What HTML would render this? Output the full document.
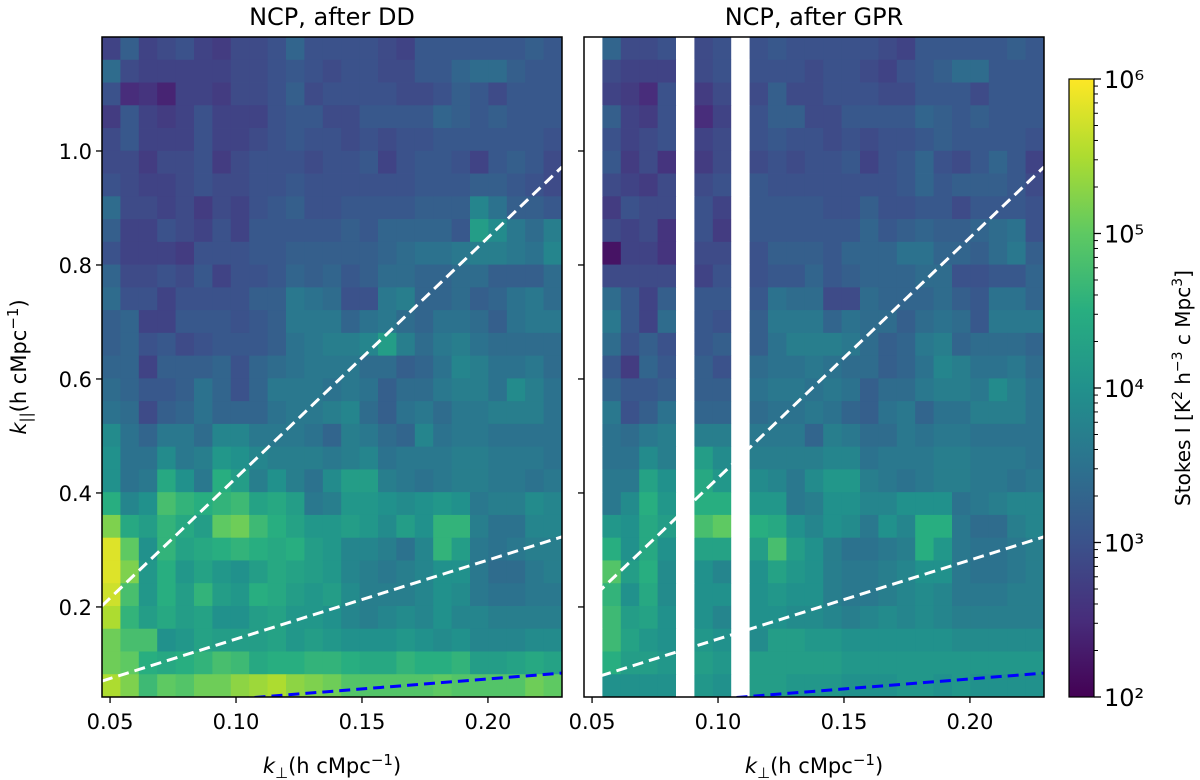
<!DOCTYPE html>
<html><head><meta charset="utf-8">
<style>
html,body{margin:0;padding:0;background:#fff;}
svg{display:block;font-family:"DejaVu Sans","Liberation Sans",sans-serif;}
</style></head>
<body>
<svg id="chart" width="1200" height="780" viewBox="0 0 1200 780" xmlns="http://www.w3.org/2000/svg">
<defs>
<linearGradient id="vir" x1="0" y1="1" x2="0" y2="0">
<stop offset="0" stop-color="#440154"/><stop offset="0.125" stop-color="#472d7b"/><stop offset="0.25" stop-color="#3b528b"/><stop offset="0.375" stop-color="#2c728e"/><stop offset="0.5" stop-color="#21918c"/><stop offset="0.625" stop-color="#28ae80"/><stop offset="0.75" stop-color="#5ec962"/><stop offset="0.875" stop-color="#addc30"/><stop offset="1" stop-color="#fde725"/>
</linearGradient>
</defs>
<g id="left"></g>
<g id="right"></g>
<g id="cbar"></g>
<text x="332" y="25" font-size="24" text-anchor="middle">NCP, after DD</text>
<text x="814" y="25" font-size="24" text-anchor="middle">NCP, after GPR</text>
<text x="332" y="773" font-size="21" text-anchor="middle"><tspan font-style="italic">k</tspan><tspan font-size="15" dy="5">⊥</tspan><tspan dy="-5">(h cMpc</tspan><tspan font-size="15" dy="-8">−1</tspan><tspan dy="8">)</tspan></text>
<text x="814" y="773" font-size="21" text-anchor="middle"><tspan font-style="italic">k</tspan><tspan font-size="15" dy="5">⊥</tspan><tspan dy="-5">(h cMpc</tspan><tspan font-size="15" dy="-8">−1</tspan><tspan dy="8">)</tspan></text>
<text transform="translate(26,367) rotate(-90)" font-size="21" text-anchor="middle"><tspan font-style="italic">k</tspan><tspan font-size="15" dy="5">||</tspan><tspan dy="-5">(h cMpc</tspan><tspan font-size="15" dy="-8">−1</tspan><tspan dy="8">)</tspan></text>
<text transform="translate(1190,388) rotate(-90)" font-size="20" text-anchor="middle">Stokes I [K<tspan font-size="14" dy="-8">2</tspan><tspan dy="8"> h</tspan><tspan font-size="14" dy="-8">−3</tspan><tspan dy="8"> c Mpc</tspan><tspan font-size="14" dy="-8">3</tspan><tspan dy="8">]</tspan></text>
</svg>
<script>
// log10(P)*10 per cell, row 0 = top (highest k_par); 0 = masked (white)
const dataDD = [
[28,32,28,29,30,28,27,29,29,30,33,30,30,30,30,29,28,31,31,31,31,31,31,32,31],
[34,29,28,28,28,28,28,29,29,30,31,30,29,30,30,29,29,31,31,33,34,34,32,31,31],
[30,25,26,24,28,28,27,29,29,30,32,29,30,30,30,30,29,29,30,32,31,29,31,31,31],
[27,31,28,27,28,30,28,28,28,30,31,31,29,29,31,31,31,31,33,32,31,32,31,31,31],
[29,31,28,28,28,30,28,28,29,30,31,30,30,29,30,29,30,30,31,31,31,31,31,31,30],
[29,29,27,29,29,30,27,29,30,30,30,29,30,30,31,28,30,31,31,30,28,31,32,31,29],
[30,29,28,28,29,30,29,29,30,30,31,30,30,30,30,30,30,31,31,31,32,32,31,30,29],
[34,29,29,28,29,27,29,28,30,31,32,30,30,31,31,31,31,32,32,32,38,35,32,32,31],
[32,28,28,30,29,28,30,28,31,31,31,31,31,32,31,33,33,33,33,31,42,39,36,34,37],
[30,28,28,28,27,30,30,30,31,31,32,32,32,32,32,33,34,35,35,36,37,37,36,35,38],
[33,29,29,30,29,31,28,30,30,31,33,32,33,31,32,34,34,33,33,34,34,32,32,32,34],
[34,30,30,28,30,30,30,30,32,32,36,35,34,30,30,36,37,33,33,34,32,33,35,36,34],
[32,33,28,28,31,31,31,30,31,32,36,36,36,33,35,36,34,33,35,35,34,32,35,36,36],
[32,33,30,31,29,30,31,31,31,32,35,36,37,37,38,42,37,34,36,37,35,34,34,34,34],
[33,33,28,32,32,32,33,30,33,34,35,36,36,36,34,34,32,33,35,38,37,35,35,36,34],
[34,33,31,31,32,35,33,30,33,36,36,36,35,36,35,32,34,34,36,37,37,35,39,37,35],
[35,34,29,32,33,35,33,33,33,35,36,36,37,38,34,32,35,36,34,36,36,37,37,37,35],
[39,35,33,36,36,34,38,38,36,36,36,35,33,37,36,34,33,38,35,36,36,35,35,35,35],
[40,35,35,39,36,37,41,40,38,37,37,37,36,37,38,35,36,36,36,37,37,36,36,36,35],
[40,35,36,44,40,36,45,42,37,40,37,35,39,42,42,37,36,35,36,37,37,36,36,35,36],
[45,38,40,48,46,45,46,47,43,44,42,36,37,41,41,40,39,40,41,40,36,37,37,39,38],
[52,44,42,46,44,42,50,51,47,45,43,41,41,42,41,39,42,40,46,46,37,35,35,38,38],
[58,50,40,46,43,44,45,46,45,44,45,42,41,38,38,37,35,38,46,42,36,35,36,37,37],
[58,52,41,45,41,43,41,40,42,44,43,42,41,38,37,36,37,38,40,40,36,34,34,36,37],
[57,48,41,45,42,46,42,41,45,44,42,41,42,39,37,37,37,38,40,39,36,35,35,36,36],
[55,46,42,44,42,43,40,40,42,43,41,41,40,38,37,38,39,38,40,38,38,37,37,37,37],
[51,48,48,40,41,43,42,42,42,43,41,42,41,40,40,40,41,40,39,40,38,38,38,39,39],
[51,50,45,44,45,46,48,47,44,45,45,46,46,45,44,44,46,45,45,46,42,42,43,44,43],
[55,52,47,50,49,51,51,53,54,55,53,52,51,49,49,49,49,49,50,49,49,49,49,51,50]
];
const dataGPR = [
[0,33,29,29,30,0,29,30,0,30,31,30,30,30,30,30,29,28,31,31,31,31,31,32,31],
[0,29,28,28,28,0,29,30,0,30,30,30,29,30,30,29,28,30,31,32,34,34,31,31,31],
[0,28,27,25,30,0,27,29,0,29,32,29,29,30,30,30,29,29,31,31,31,29,31,31,31],
[0,32,28,27,30,0,25,28,0,30,32,32,29,29,31,31,31,31,33,32,31,32,31,31,31],
[0,30,28,29,30,0,28,29,0,30,31,30,30,29,30,29,30,30,31,32,31,31,31,31,30],
[0,31,27,29,26,0,27,29,0,29,30,29,30,30,31,28,30,31,33,30,29,31,33,31,28],
[0,29,28,27,29,0,29,30,0,31,30,30,30,30,30,30,30,31,33,31,32,32,32,31,29],
[0,27,30,29,29,0,30,28,0,31,31,31,31,30,30,32,30,30,31,31,29,31,31,31,30],
[0,29,28,29,26,0,30,27,0,31,31,31,31,31,31,33,31,32,33,32,32,33,34,35,30],
[0,22,28,28,26,0,29,29,0,30,32,32,32,31,33,33,33,35,35,33,33,32,34,36,32],
[0,29,29,29,29,0,28,30,0,30,31,31,33,31,32,33,33,33,34,34,30,30,31,31,33],
[0,34,31,28,32,0,31,31,0,31,35,34,34,29,29,34,33,33,33,34,32,31,35,35,33],
[0,36,31,28,34,0,31,30,0,32,36,36,36,33,35,34,34,32,34,35,34,31,36,36,36],
[0,34,30,32,30,0,31,32,0,32,35,37,37,37,36,34,32,33,36,37,33,34,34,34,33],
[0,31,27,33,31,0,32,30,0,34,35,35,36,35,34,34,32,33,35,38,37,35,35,36,34],
[0,33,31,31,32,0,32,32,0,35,36,36,35,36,35,32,34,34,36,37,37,36,39,37,35],
[0,36,30,32,35,0,33,33,0,34,35,35,36,35,33,32,35,36,33,35,35,37,37,37,35],
[0,35,34,36,37,0,37,37,0,36,36,36,33,37,36,34,34,36,35,36,36,35,35,35,35],
[0,35,35,39,37,0,42,39,0,37,37,37,37,38,38,35,36,36,36,37,37,36,36,36,35],
[0,36,36,43,40,0,44,41,0,39,38,36,39,41,41,37,36,35,36,37,37,36,36,35,36],
[0,36,39,45,41,0,45,45,0,41,41,36,37,40,40,38,38,40,40,40,35,36,37,38,38],
[0,41,40,44,42,0,48,50,0,45,44,40,38,40,39,36,40,38,45,45,36,34,34,37,38],
[0,45,40,44,40,0,43,43,0,42,48,42,40,37,35,35,36,37,45,41,36,35,35,36,37],
[0,49,42,45,39,0,40,38,0,40,43,41,40,37,36,36,37,38,40,40,36,35,35,36,37],
[0,46,40,44,39,0,40,40,0,40,41,40,40,37,36,36,37,38,39,38,36,36,36,37,37],
[0,47,42,43,40,0,40,38,0,40,40,39,39,38,37,38,39,38,39,38,37,37,37,37,37],
[0,47,43,41,40,0,41,40,0,39,42,42,41,41,40,40,40,40,40,40,39,39,39,39,39],
[0,45,42,42,41,0,42,41,0,42,42,42,42,42,41,41,41,41,41,41,41,41,41,41,41],
[0,40,40,40,40,0,41,40,0,42,42,41,41,41,40,40,40,41,41,40,41,40,40,40,40]
];
const xTicks = [0.05, 0.10, 0.15, 0.20];
const xTickLabels = ["0.05", "0.10", "0.15", "0.20"];
const yTicks = [0.2, 0.4, 0.6, 0.8, 1.0];
const yTickLabels = ["0.2", "0.4", "0.6", "0.8", "1.0"];
const kperpRange = [0.0468, 0.2294];
const kparRange = [0.042, 1.2];
// reference lines: [k_par at left edge, k_par at right edge]
const lineHorizonBuffer = [0.202, 0.972];
const lineHorizon = [0.070, 0.323];
const lineBlue = [0.020, 0.084];
const cbarExps = [2, 3, 4, 5, 6];
const cbarLabels = ["10²", "10³", "10⁴", "10⁵", "10⁶"];

const NS = "http://www.w3.org/2000/svg";
const stops = [[68,1,84],[72,45,123],[59,82,139],[44,114,142],[33,145,140],[40,174,128],[94,201,98],[173,220,48],[253,231,37]];
function viridis(t){t=Math.max(0,Math.min(1,t));const p=t*8;const i=Math.min(7,Math.floor(p));const f=p-i;const a=stops[i],b=stops[i+1];
return "rgb("+[0,1,2].map(j=>Math.round(a[j]+(b[j]-a[j])*f)).join(",")+")";}
const PT=37, PB=697;
function yScale(k){return PB-(k-kparRange[0])/(kparRange[1]-kparRange[0])*(PB-PT);}
function mk(tag,attrs,parent){const e=document.createElementNS(NS,tag);for(const k in attrs)e.setAttribute(k,attrs[k]);parent.appendChild(e);return e;}

function drawPanel(g,data,x0,showY,tag){
  const W=460;
  const xScale=k=>x0+(k-kperpRange[0])/(kperpRange[1]-kperpRange[0])*W;
  const nr=data.length,nc=data[0].length;
  const dk=(kperpRange[1]-kperpRange[0])/nc, dp=(kparRange[1]-kparRange[0])/nr;
  for(let r=0;r<nr;r++)for(let c=0;c<nc;c++){
    const v=data[r][c];
    const xa=xScale(kperpRange[0]+c*dk), xb=xScale(kperpRange[0]+(c+1)*dk);
    const ya=yScale(kparRange[1]-r*dp), yb=yScale(kparRange[1]-(r+1)*dp);
    const rc=mk("rect",{x:xa.toFixed(2),y:ya.toFixed(2),width:(xb-xa+0.4).toFixed(2),height:(yb-ya+0.4).toFixed(2),fill:v?viridis((v/10-2)/4):"#ffffff"},g);
    
    
  }
  const lines=[[lineHorizonBuffer,"#ffffff","horizon-buffer-line"],[lineHorizon,"#ffffff","horizon-line"],[lineBlue,"#0000ff","blue-wedge-line"]];
  const cp=mk("clipPath",{id:"clip"+tag},g);mk("rect",{x:x0,y:PT,width:W,height:PB-PT},cp);
  lines.forEach(([l,col,nm])=>{
    const ln=mk("line",{x1:x0,y1:yScale(l[0]),x2:x0+W,y2:yScale(l[1]),stroke:col,"stroke-width":3,"stroke-dasharray":"11,6","clip-path":"url(#clip"+tag+")"},g);
    
    
  });
  const fr=mk("rect",{x:x0,y:PT,width:W,height:PB-PT,fill:"none",stroke:"#000","stroke-width":1.5},g);
  
  
  xTicks.forEach((t,i)=>{const x=xScale(t);
    mk("line",{x1:x,y1:PB,x2:x,y2:PB+6,stroke:"#000","stroke-width":1.3},g);
    const tx=mk("text",{x:x,y:PB+32,"font-size":21,"text-anchor":"middle"},g);tx.textContent=xTickLabels[i];
    
    
  });
  yTicks.forEach((t,i)=>{const y=yScale(t);
    mk("line",{x1:x0-6,y1:y,x2:x0,y2:y,stroke:"#000","stroke-width":1.3},g);
    if(showY){const tx=mk("text",{x:x0-10,y:y+8,"font-size":21,"text-anchor":"end"},g);tx.textContent=yTickLabels[i];
      
      }
  });
}
drawPanel(document.getElementById("left"),dataDD,102,true,"L");
drawPanel(document.getElementById("right"),dataGPR,584,false,"R");

(function(){
  const g=document.getElementById("cbar");
  const cx=1069,cw=25,ct=79,cb=697;
  const cy=e=>cb-(e-cbarExps[0])/(cbarExps[cbarExps.length-1]-cbarExps[0])*(cb-ct);
  const r=mk("rect",{x:cx,y:ct,width:cw,height:cb-ct,fill:"url(#vir)",stroke:"#000","stroke-width":1.2},g);
  
  
  cbarExps.forEach((e,i)=>{const y=cy(e);
    mk("line",{x1:cx+cw,y1:y,x2:cx+cw+7,y2:y,stroke:"#000","stroke-width":1.3},g);
    const t=mk("text",{x:cx+cw+10,y:y+9,"font-size":24},g);t.textContent=cbarLabels[i];
    
    
    if(i<cbarExps.length-1)for(let m=2;m<10;m++){const ym=cy(e+Math.log10(m));
      mk("line",{x1:cx+cw,y1:ym,x2:cx+cw+4,y2:ym,stroke:"#000","stroke-width":1},g);}
  });
})();
</script>
</body></html>
